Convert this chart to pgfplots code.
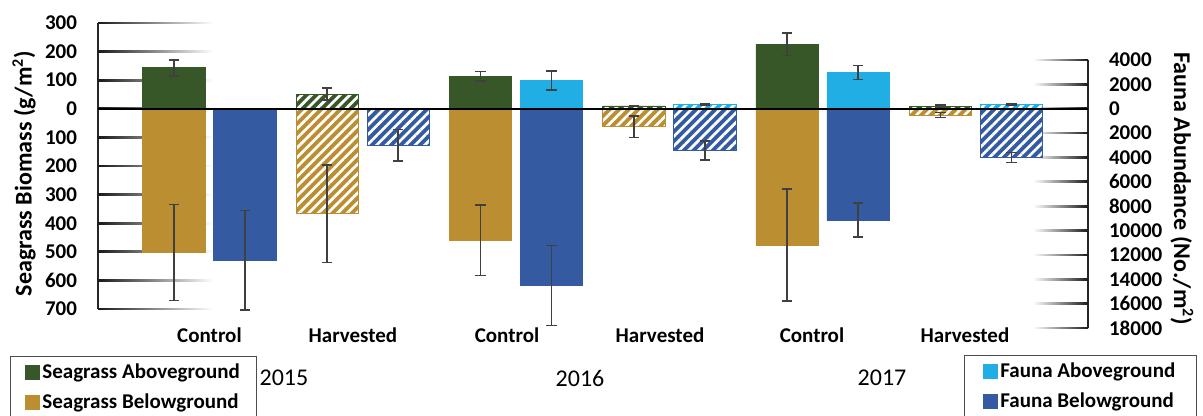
\documentclass[border=0pt]{standalone}
\usepackage{fontspec}
\setmainfont{Carlito}
\usepackage{pgfplots}
\pgfplotsset{compat=1.18}
\usetikzlibrary{patterns.meta}

\definecolor{sgAbove}{RGB}{56,87,41}
\definecolor{sgBelow}{RGB}{186,142,49}
\definecolor{faAbove}{RGB}{32,174,228}
\definecolor{faBelow}{RGB}{52,91,161}
\definecolor{errc}{RGB}{64,64,64}

% seagrass bars sit at x = k - 0.2316, fauna bars at x = k + 0.2316 (k = 0..5)
\pgfplotsset{
  bars/.style={ybar, bar width=31.25pt, bar shift=0pt, line width=0.4pt,
    legend image code/.code={\fill[##1] (0pt,-3.5pt) rectangle (7pt,3.5pt);}},
  hatch/.style={postaction={pattern={Lines[angle=45,distance=3.4pt,line width=1.35pt]}, pattern color=white}},
  errs/.style={
    error bars/.cd, y dir=both, y explicit, error mark=-,
    error bar style={line width=0.8pt, errc, solid},
    error mark options={rotate=90, line width=0.8pt, errc, mark size=2.6pt, solid}},
  tickfont/.style={font=\fontsize{10.5}{12}\selectfont\bfseries},
  boxlegend/.style={legend style={draw=black!70, line width=0.6pt,
    font=\fontsize{10.5}{12}\selectfont\bfseries, inner xsep=7pt, inner ysep=2pt,
    row sep=3pt, nodes={inner sep=1.5pt}, legend cell align=left}},
}

\begin{document}
\begin{tikzpicture}
\useasboundingbox (0,0) rectangle (601.5pt,208pt);

% seagrass, left axis
\begin{axis}[
  at={(49pt,53.5pt)}, anchor=south west,
  scale only axis, width=495pt, height=143pt, clip=false,
  xmin=-0.727, xmax=5.7306, ymin=-700, ymax=300,
  axis lines*=left, x axis line style={draw=none},
  y axis line style={line width=0.9pt, black!85},
  major tick length=0pt,
  ytick={-700,-600,-500,-400,-300,-200,-100,0,100,200,300},
  yticklabels={700,600,500,400,300,200,100,0,100,200,300},
  yticklabel style={tickfont, xshift=-7pt},
  xtick={0,0.936,1.941,2.939,3.93,4.928},
  xticklabels={Control,Harvested,Control,Harvested,Control,Harvested},
  xticklabel style={tickfont, yshift=-6pt},
  every axis y label/.style={at={(axis description cs:-0.0747,0.474)}, rotate=90, anchor=center},
  ylabel={Seagrass Biomass (g/m\textsuperscript{2})},
  label style={font=\fontsize{12}{14}\selectfont\bfseries},
  boxlegend,
  legend style={at={(axis description cs:-0.0889,-0.1643)}, anchor=north west},
]
\pgfplotsinvokeforeach{-700,-600,-500,-400,-300,-200,-100,0,100,200,300}{
  \shade[left color=black!90, middle color=black!55, right color=white]
    (axis cs:-0.727,#1) ++(0pt,-0.45pt) rectangle ++(57.5pt,0.9pt);
}
\addplot[bars, fill=sgAbove, draw=sgAbove, errs]
  coordinates {(-0.2316,143) +- (0,28) (1.7684,114) +- (0,17) (3.7684,226) +- (0,40)};
\addlegendentry{Seagrass Aboveground}
\addplot[bars, fill=sgAbove, draw=sgAbove, hatch, forget plot, errs]
  coordinates {(0.7684,51) +- (0,21) (2.7684,10) +- (0,2) (4.7684,9) +- (0,5)};
\addplot[bars, fill=sgBelow, draw=sgBelow, errs]
  coordinates {(-0.2316,-502) +- (0,168) (1.7684,-460) +- (0,123) (3.7684,-476) +- (0,195)};
\addlegendentry{Seagrass Belowground}
\addplot[bars, fill=sgBelow, draw=sgBelow, hatch, forget plot, errs]
  coordinates {(0.7684,-367) +- (0,170) (2.7684,-63) +- (0,37) (4.7684,-22) +- (0,9)};

\node[font=\fontsize{12}{14}\selectfont] at (axis cs:0.486,-942) {2015};
\node[font=\fontsize{12}{14}\selectfont] at (axis cs:2.417,-942) {2016};
\node[font=\fontsize{12}{14}\selectfont] at (axis cs:4.387,-942) {2017};
\end{axis}

% fauna, right axis
\begin{axis}[
  at={(49pt,44pt)}, anchor=south west,
  scale only axis, width=495pt, height=134pt, clip=false,
  xmin=-0.727, xmax=5.7306, ymin=-18000, ymax=4000,
  axis y line*=right, axis x line=none,
  y axis line style={line width=0.9pt, black!85},
  major tick length=0pt, scaled y ticks=false,
  ytick={-18000,-16000,-14000,-12000,-10000,-8000,-6000,-4000,-2000,0,2000,4000},
  yticklabels={18000,16000,14000,12000,10000,8000,6000,4000,2000,0,2000,4000},
  yticklabel style={tickfont, xshift=7pt},
  every axis y label/.style={at={(axis description cs:1.0949,0.519)}, rotate=-90, anchor=center},
  ylabel={Fauna Abundance (No./m\textsuperscript{2})},
  label style={font=\fontsize{12}{14}\selectfont\bfseries},
  boxlegend,
  legend style={at={(axis description cs:0.8747,-0.1007)}, anchor=north west, inner xsep=9pt},
]
\pgfplotsinvokeforeach{-18000,-16000,-14000,-12000,-10000,-8000,-6000,-4000,-2000,0,2000,4000}{
  \shade[left color=white, right color=black!90]
    (axis cs:5.7306,#1) ++(-27.5pt,-0.45pt) rectangle ++(27.5pt,0.9pt);
}
\addplot[bars, fill=faAbove, draw=faAbove, errs]
  coordinates {(2.2316,2320) +- (0,770) (4.2316,2970) +- (0,575)};
\addlegendentry{Fauna Aboveground}
\addplot[bars, fill=faAbove, draw=faAbove, hatch, forget plot, errs]
  coordinates {(3.2316,370) +- (0,60) (5.2316,330) +- (0,80)};
\addplot[bars, fill=faBelow, draw=faBelow, errs]
  coordinates {(0.2316,-12440) +- (0,4100) (2.2316,-14520) +- (0,3290) (4.2316,-9150) +- (0,1400)};
\addlegendentry{Fauna Belowground}
\addplot[bars, fill=faBelow, draw=faBelow, hatch, forget plot, errs]
  coordinates {(1.2316,-3010) +- (0,1290) (3.2316,-3420) +- (0,790) (5.2316,-4010) +- (0,400)};

\draw[line width=0.8pt, black] (axis cs:-0.727,0) -- (axis cs:5.7306,0);
\end{axis}
\end{tikzpicture}
\end{document}
